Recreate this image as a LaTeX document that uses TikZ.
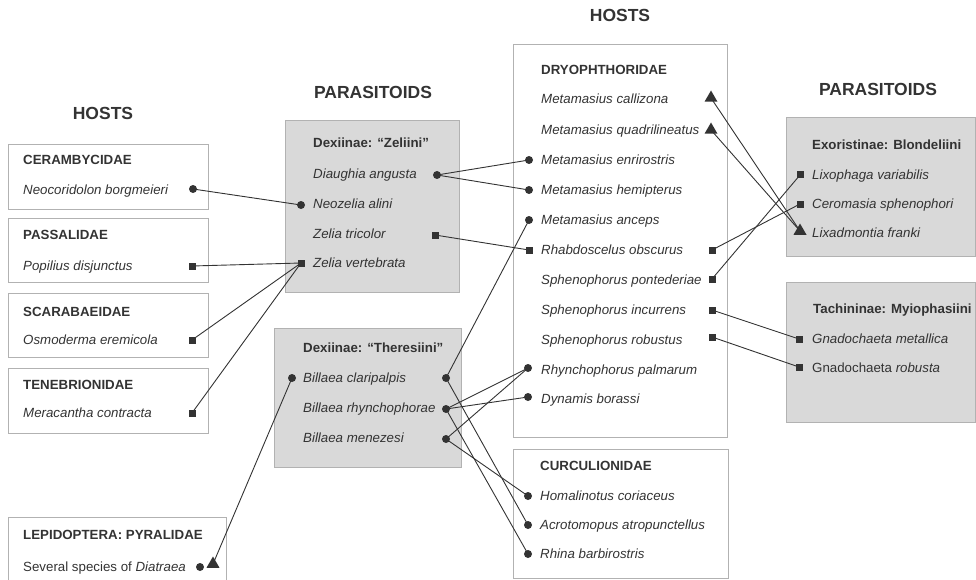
\documentclass[tikz,border=0pt]{standalone}
\usepackage{fontspec}
\setmainfont{Liberation Sans}
\usetikzlibrary{shapes.geometric}
\definecolor{ink}{RGB}{51, 51, 51}
\definecolor{boxline}{RGB}{178, 178, 178}
\definecolor{boxfill}{RGB}{217, 217, 217}
\newcommand{\spfont}{\fontsize{13.3}{16}\selectfont}
\newcommand{\headfont}{\fontsize{17.5}{20}\selectfont\bfseries}

\begin{document}
\begin{tikzpicture}[
        x=1pt, y=-1pt,
        title/.style={font=\headfont, text=ink},
        fam/.style={anchor=west, inner sep=0pt, text height=9.5pt, text depth=0pt,
                    font=\spfont\bfseries, text=ink},
        sp/.style={fam, font=\spfont\itshape},
        spu/.style={fam, font=\spfont},
        hostbox/.style={draw=boxline, line width=1pt},
        parbox/.style={hostbox, fill=boxfill},
        dot/.style={circle, fill=ink, inner sep=0pt, minimum size=8pt},
        sq/.style={rectangle, fill=ink, inner sep=0pt, minimum size=7pt},
        tri/.style={regular polygon, regular polygon sides=3, fill=ink,
                    inner sep=0pt, minimum size=15pt},
        link/.style={draw=ink, line width=0.9pt},
    ]
        \useasboundingbox (0,0) rectangle (976,580);

        % titles
        \node[title] (hostsL) at (103,113) {HOSTS};
        \node[title] (parL) at (373,92) {PARASITOIDS};
        \node[title] (hostsR) at (620,15) {HOSTS};
        \node[title] (parR) at (878,89) {PARASITOIDS};

        % boxes
        \draw[hostbox] (8,145) rectangle (208,209);
        \draw[hostbox] (8,218) rectangle (208,282);
        \draw[hostbox] (8,293) rectangle (208,357);
        \draw[hostbox] (8,368) rectangle (208,433);
        \draw[hostbox] (8,517) rectangle (226,590);
        \draw[parbox] (285,121) rectangle (459,292);
        \draw[parbox] (274,328) rectangle (461,467);
        \draw[hostbox] (513,45) rectangle (727,437);
        \draw[hostbox] (513,449) rectangle (728,578);
        \draw[parbox] (786,118) rectangle (975,256);
        \draw[parbox] (786,282) rectangle (975,422);

        % left hosts
        \node[fam] (ceram) at (23,160) {CERAMBYCIDAE};
        \node[sp] (neocor) at (23,190) {Neocoridolon borgmeieri};
        \node[dot] (neocorR) at (193,189) {};
        \node[fam] (passal) at (23,235) {PASSALIDAE};
        \node[sp] (popil) at (23,266) {Popilius disjunctus};
        \node[sq] (popilR) at (192,266) {};
        \node[fam] (scarab) at (23,312) {SCARABAEIDAE};
        \node[sp] (osmod) at (23,340) {Osmoderma eremicola};
        \node[sq] (osmodR) at (192,340) {};
        \node[fam] (tenebr) at (23,385) {TENEBRIONIDAE};
        \node[sp] (merac) at (23,413) {Meracantha contracta};
        \node[sq] (meracR) at (192,413) {};
        \node[fam] (pyral) at (23,535) {LEPIDOPTERA: PYRALIDAE};
        \node[spu] (diatr) at (23,567) {Several species of \textit{Diatraea}};
        \node[dot] (diatrD) at (200,567) {};
        \node[tri] (diatrT) at (213,564) {};

        % Zeliini
        \node[fam] (zeliini) at (313,143) {Dexiinae: “Zeliini”};
        \node[sp] (diaug) at (313,174) {Diaughia angusta};
        \node[dot] (diaugR) at (437,175) {};
        \node[sp] (neozel) at (313,204) {Neozelia alini};
        \node[dot] (neozelL) at (301,205) {};
        \node[sp] (ztric) at (313,234) {Zelia tricolor};
        \node[sq] (ztricR) at (435,235) {};
        \node[sp] (zvert) at (313,263) {Zelia vertebrata};
        \node[sq] (zvertL) at (301,263) {};

        % Theresiini
        \node[fam] (theres) at (303,348) {Dexiinae: “Theresiini”};
        \node[sp] (bclar) at (303,378) {Billaea claripalpis};
        \node[dot] (bclarL) at (292,378) {};
        \node[dot] (bclarR) at (446,378) {};
        \node[sp] (brhyn) at (303,408) {Billaea rhynchophorae};
        \node[dot] (brhynR) at (446,409) {};
        \node[sp] (bmene) at (303,438) {Billaea menezesi};
        \node[dot] (bmeneR) at (446,439) {};

        % Dryophthoridae
        \node[fam] (dryo) at (541,70) {DRYOPHTHORIDAE};
        \node[sp] (mcall) at (541,99) {Metamasius callizona};
        \node[tri] (mcallR) at (711,98) {};
        \node[sp] (mquad) at (541,130) {Metamasius quadrilineatus};
        \node[tri] (mquadR) at (711,130) {};
        \node[sp] (menri) at (541,160) {Metamasius enrirostris};
        \node[dot] (menriL) at (529,160) {};
        \node[sp] (mhemi) at (541,190) {Metamasius hemipterus};
        \node[dot] (mhemiL) at (529,190) {};
        \node[sp] (mance) at (541,220) {Metamasius anceps};
        \node[dot] (manceL) at (529,220) {};
        \node[sp] (rhabd) at (541,250) {Rhabdoscelus obscurus};
        \node[sq] (rhabdL) at (529,250) {};
        \node[sq] (rhabdR) at (712,250) {};
        \node[sp] (spont) at (541,280) {Sphenophorus pontederiae};
        \node[sq] (spontR) at (712,279) {};
        \node[sp] (sincu) at (541,310) {Sphenophorus incurrens};
        \node[sq] (sincuR) at (712,310) {};
        \node[sp] (srobu) at (541,340) {Sphenophorus robustus};
        \node[sq] (srobuR) at (712,337) {};
        \node[sp] (rpalm) at (541,370) {Rhynchophorus palmarum};
        \node[dot] (rpalmL) at (528,368) {};
        \node[sp] (dbora) at (541,399) {Dynamis borassi};
        \node[dot] (dboraL) at (528,397) {};

        % Curculionidae
        \node[fam] (curcu) at (540,466) {CURCULIONIDAE};
        \node[sp] (homal) at (540,496) {Homalinotus coriaceus};
        \node[dot] (homalL) at (528,496) {};
        \node[sp] (acrot) at (540,525) {Acrotomopus atropunctellus};
        \node[dot] (acrotL) at (528,525) {};
        \node[sp] (rhina) at (540,554) {Rhina barbirostris};
        \node[dot] (rhinaL) at (528,554) {};

        % Blondeliini
        \node[fam] (blond) at (812,145) {Exoristinae: Blondeliini};
        \node[sp] (lixop) at (812,175) {Lixophaga variabilis};
        \node[sq] (lixopL) at (800,175) {};
        \node[sp] (cerom) at (812,204) {Ceromasia sphenophori};
        \node[sq] (ceromL) at (800,204) {};
        \node[sp] (lixad) at (812,233) {Lixadmontia franki};
        \node[tri] (lixadL) at (800,231) {};

        % Myiophasiini
        \node[fam] (myiop) at (813,309) {Tachininae: Myiophasiini};
        \node[sp] (gmeta) at (812,339) {Gnadochaeta metallica};
        \node[sq] (gmetaL) at (799,339) {};
        \node[spu] (grobu) at (812,368) {Gnadochaeta \textit{robusta}};
        \node[sq] (grobuL) at (799,367) {};

        % links
        \draw[link] (neocorR.center) -- (neozelL.center);
        \draw[link] (popilR.center) -- (zvertL.center);
        \draw[link] (osmodR.center) -- (zvertL.center);
        \draw[link] (meracR.center) -- (zvertL.center);
        \draw[link] (diatrT.center) -- (bclarL.center);
        \draw[link] (diaugR.center) -- (menriL.center);
        \draw[link] (diaugR.center) -- (mhemiL.center);
        \draw[link] (ztricR.center) -- (rhabdL.center);
        \draw[link] (bclarR.center) -- (manceL.center);
        \draw[link] (bclarR.center) -- (acrotL.center);
        \draw[link] (brhynR.center) -- (rpalmL.center);
        \draw[link] (brhynR.center) -- (dboraL.center);
        \draw[link] (brhynR.center) -- (rhinaL.center);
        \draw[link] (bmeneR.center) -- (rpalmL.center);
        \draw[link] (bmeneR.center) -- (homalL.center);
        \draw[link] (mcallR.center) -- (lixadL.center);
        \draw[link] (mquadR.center) -- (lixadL.center);
        \draw[link] (rhabdR.center) -- (ceromL.center);
        \draw[link] (spontR.center) -- (lixopL.center);
        \draw[link] (sincuR.center) -- (gmetaL.center);
        \draw[link] (srobuR.center) -- (grobuL.center);

    \end{tikzpicture}
\end{document}
